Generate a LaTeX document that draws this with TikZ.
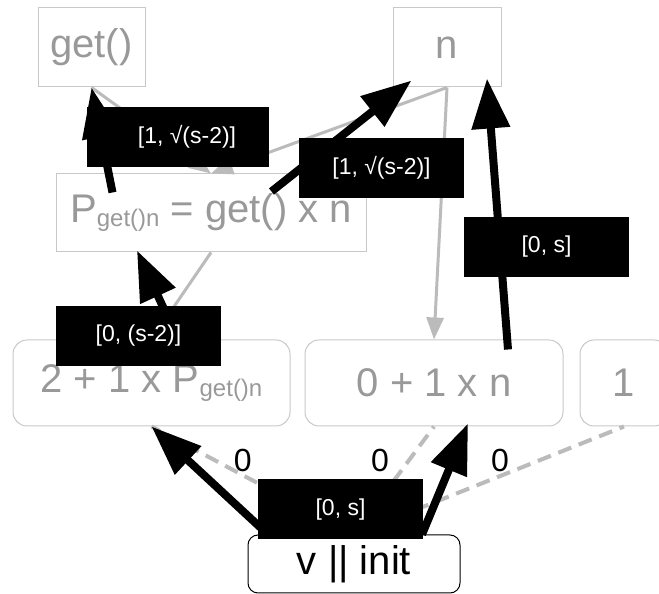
\documentclass[tikz,border=0pt]{standalone}
\usepackage{fontspec}
\setmainfont{Liberation Sans}
\usetikzlibrary{arrows.meta}
\definecolor{vienxam}{HTML}{C8C8C8}
\definecolor{chuxam}{HTML}{999999}
\definecolor{duongxam}{HTML}{BBBBBB}
\newcommand\chiso[1]{\raisebox{-4pt}{\fontsize{24}{24}\selectfont #1}}

\begin{document}
\begin{tikzpicture}[x=1pt,y=1pt,font=\fontsize{40}{48}\selectfont]
	\tikzset{hop/.style={draw=vienxam,line width=1pt,text=chuxam,inner sep=0pt},
		hoptron/.style={hop,rounded corners=14pt},
		the/.style={fill=black,text=white,minimum width=165pt,minimum height=60pt,inner sep=0pt,font=\fontsize{23}{28}\selectfont},
		so/.style={text=black,inner sep=0pt,font=\fontsize{32}{36}\selectfont},
		canh/.style={draw=duongxam,line width=3pt,-{Triangle[length=22pt,width=17pt]}},
		dut/.style={draw=duongxam,line width=4pt,dash pattern=on 14pt off 8pt},
		muiten/.style={line width=8pt,-{Triangle[length=50pt,width=37pt]}}}
	\useasboundingbox (0,0) rectangle (659,594);
	\clip (0,0) rectangle (659,594);
	
	% Các hộp
	\path (91.5,546.5) node[hop,minimum width=107pt,minimum height=79pt] (get) {get()}
	(447,546.5) node[hop,minimum width=108pt,minimum height=79pt] (n) {n}
	(211,381) node[hop,minimum width=310pt,minimum height=78pt] (P) {P\chiso{get()n} = get() x n}
	
	% Hàng dưới
	(151.5,211) node[hoptron,minimum width=277pt,minimum height=86pt] (trai) {2 + 1 x P\chiso{get()n}}
	(434,211) node[hoptron,minimum width=258pt,minimum height=86pt] (giua) {0 + 1 x n}
	(624,211) node[hoptron,minimum width=88pt,minimum height=86pt] (phai) {1}
	(354,30) node[draw,line width=1pt,rounded corners=10pt,minimum width=212pt,minimum height=58pt,inner sep=0pt] (v) {v || init};
	
	% Cạnh xám
	\draw[canh] (get.south) -- (P.north);
	\draw[canh] (n.south) -- (P.north);
	\draw[canh] (n.south) -- (giua.north);
	\draw[canh] (P.south) -- (trai.north);
	
	% Cạnh nét đứt từ v
	\draw[dut] (v.north) -- (trai.south) node[so,pos=0.5,xshift=-10pt,yshift=20pt]{0};
	\draw[dut] (v.north) -- (giua.south) node[so,pos=0.5,xshift=-14pt,yshift=20pt]{0};
	\draw[dut] (v.north) -- (phai.south) node[so,pos=0.5,xshift=11pt,yshift=20pt]{0};
	
	% Mũi tên đen
	\draw[muiten] ([xshift=57pt,yshift=-19pt]P.north west) -- (get.south);
	\draw[muiten] ([xshift=216pt,yshift=-18pt]P.north west) -- ([xshift=19pt,yshift=7pt]n.south west);
	\draw[muiten] ([xshift=74pt,yshift=-10pt]giua.north) -- ([xshift=40pt,yshift=9pt]n.south);
	\draw[muiten] ([xshift=26.5pt]trai.north) -- ([xshift=-74pt,yshift=2pt]P.south);
	\draw[muiten] ([xshift=-86pt]v.north) -- (trai.south);
	\draw[muiten] ([xshift=68pt]v.north) -- ([xshift=34pt,yshift=3pt]giua.south);
	
	% Nhãn khoảng
	\path (178,457) node[the,minimum width=182pt] (t1) {\hspace*{18pt}[1, √(s-2)]}
	(381.5,426) node[the] (t2) {[1, √(s-2)]}
	(546.5,347) node[the] (t3) {[0, s]}
	(138.5,258) node[the] (t4) {[0, (s-2)]}
	(340.5,84.5) node[the] (t5) {[0, s]};
\end{tikzpicture}
\end{document}
